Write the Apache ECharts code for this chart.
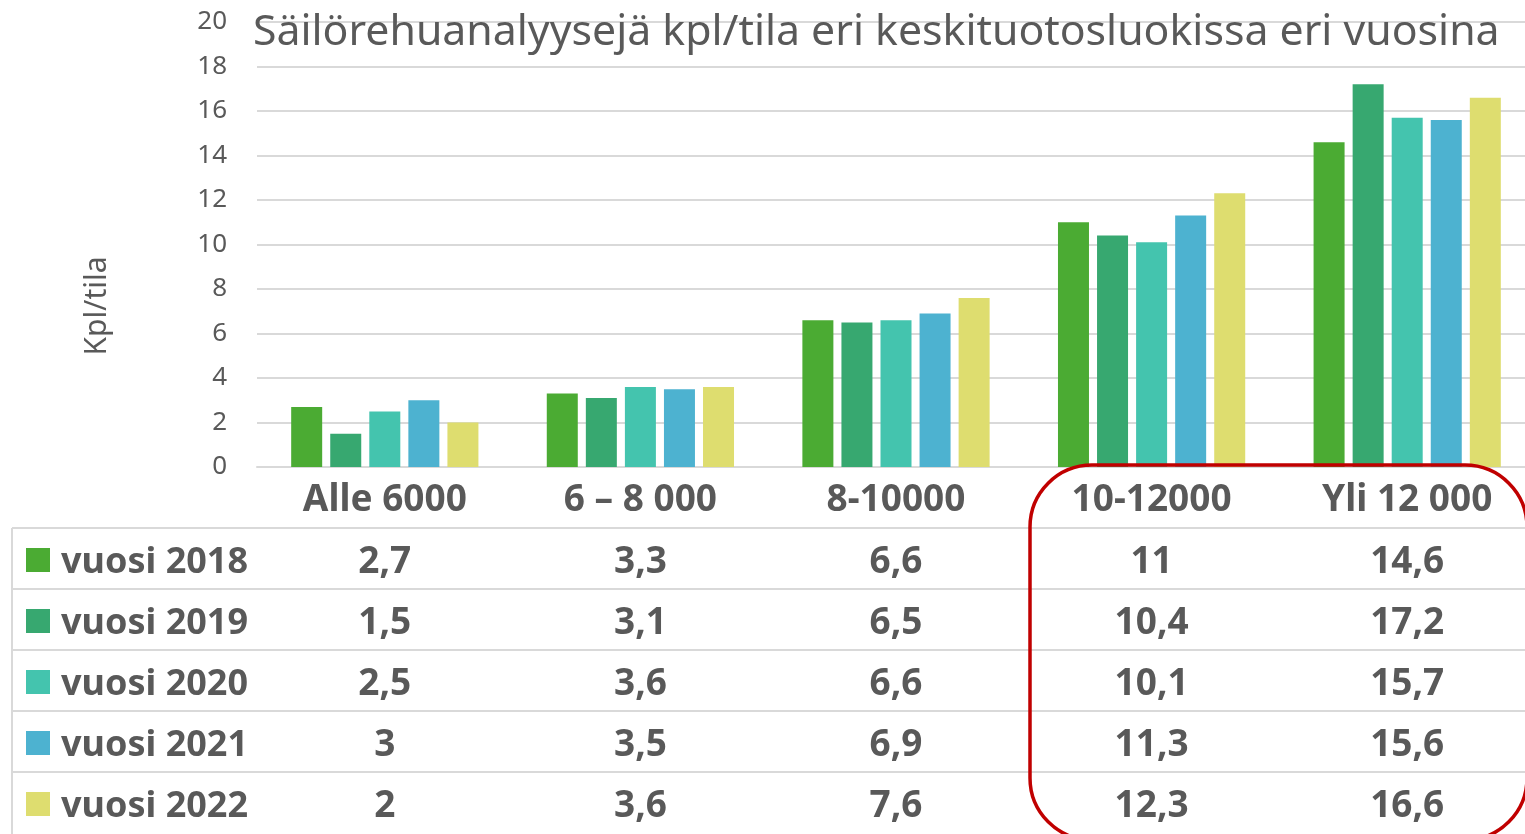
<!DOCTYPE html>
<html lang="fi">
<head>
    <meta charset="UTF-8">
    <title>Säilörehuanalyysejä</title>
    <style type="text/css">
        body, html{width: 100%;height: 100%;margin:0;background:#fff;overflow:hidden;}
        #main {width: 1545px; height: 834px;}
    </style>
    <script src="https://cdn.jsdelivr.net/npm/echarts@6/dist/echarts.min.js"></script>
</head>
<body>
<div id="main"></div>
<script type="text/javascript">
    // keskituotosluokat
    var categories = ['Alle 6000', '6 – 8 000', '8-10000', '10-12000', 'Yli 12 000'];
    var years = ['vuosi 2018', 'vuosi 2019', 'vuosi 2020', 'vuosi 2021', 'vuosi 2022'];
    var v2018 = [2.7, 3.3, 6.6, 11, 14.6];
    var v2019 = [1.5, 3.1, 6.5, 10.4, 17.2];
    var v2020 = [2.5, 3.6, 6.6, 10.1, 15.7];
    var v2021 = [3, 3.5, 6.9, 11.3, 15.6];
    var v2022 = [2, 3.6, 7.6, 12.3, 16.6];
    var yTicks = [0, 2, 4, 6, 8, 10, 12, 14, 16, 18, 20];
    var allValues = [v2018, v2019, v2020, v2021, v2022];
    var colors = ['#4bab33', '#37a870', '#44c4ae', '#4db2d0', '#dedd6f'];

    var font = '"Noto Sans", sans-serif';
    var gray = '#595959';
    var lineGray = '#d9d9d9';
    var rowH = 61;
    var axisY = 467;

    function fmt(v){
        return String(v).replace('.', ',');
    }

    var chart = echarts.init(document.getElementById('main'));

    // x-akselit: otsikkorivi + yksi rivi per vuosi (taulukko)
    var xAxes = [{
        type: 'category',
        data: categories,
        position: 'bottom',
        axisLine: {lineStyle: {color: lineGray, width: 2}},
        axisTick: {length: 367, lineStyle: {color: lineGray, width: 2}},
        axisLabel: {
            interval: 0, margin: 33, verticalAlign: 'middle',
            color: gray, fontSize: 37, fontWeight: 'bold', fontFamily: font
        }
    }];
    allValues.forEach(function(vals, i){
        xAxes.push({
            type: 'category',
            data: categories,
            position: 'bottom',
            offset: rowH * (i + 1),
            axisLine: {show: false},
            axisTick: {show: false},
            axisLabel: {
                interval: 0, margin: 34, verticalAlign: 'middle',
                color: gray, fontSize: 37, fontWeight: 'bold', fontFamily: font,
                formatter: function(value, idx){ return fmt(vals[idx]); }
            }
        });
    });

    var series = allValues.map(function(vals, i){
        return {
            name: years[i],
            type: 'bar',
            data: vals,
            barWidth: 31,
            barGap: '26%',
            itemStyle: {color: colors[i]}
        };
    });

    // taulukon vaakaviivat
    var graphics = [];
    for (var r = 1; r <= 5; r++) {
        graphics.push({
            type: 'line',
            shape: {x1: 12, y1: axisY + rowH * r, x2: 1545, y2: axisY + rowH * r},
            style: {stroke: lineGray, lineWidth: 2}
        });
    }
    graphics.push({
        type: 'line',
        shape: {x1: 12, y1: axisY + rowH, x2: 12, y2: 834},
        style: {stroke: lineGray, lineWidth: 2}
    });
    // y-akselin nimi
    graphics.push({
        type: 'text',
        x: 97, y: 306,
        rotation: Math.PI / 2,
        style: {
            text: 'Kpl/tila', fill: gray, fontSize: 30, fontFamily: font,
            align: 'center', verticalAlign: 'middle'
        }
    });
    // punainen korostus
    graphics.push({
        type: 'rect',
        shape: {x: 1030, y: 465, width: 497, height: 375, r: 62},
        style: {fill: 'none', stroke: '#c00000', lineWidth: 3.5},
        z: 100
    });

    var option = {
        animation: false,
        color: colors,
        title: {
            text: 'Säilörehuanalyysejä kpl/tila eri keskituotosluokissa eri vuosina',
            left: 248, top: 6,
            textStyle: {color: gray, fontSize: 42.8, fontWeight: 'normal', fontFamily: font}
        },
        legend: {
            data: years,
            orient: 'vertical',
            left: 26, top: 539,
            padding: 0,
            icon: 'rect',
            itemWidth: 24, itemHeight: 24,
            itemGap: 19,
            formatter: function(name){ return '{y|' + name + '}'; },
            textStyle: {
                color: gray, fontSize: 36, fontWeight: 'bold', fontFamily: font,
                rich: {
                    y: {color: gray, fontSize: 36, fontWeight: 'bold', fontFamily: font,
                        lineHeight: 34, padding: [6, 0, 0, 6]}
                }
            }
        },
        grid: {left: 257, top: 22, width: 1278, height: 445, containLabel: false},
        xAxis: xAxes,
        yAxis: {
            type: 'value',
            min: yTicks[0], max: yTicks[yTicks.length - 1], interval: 2,
            axisLine: {show: false},
            axisTick: {show: false},
            axisLabel: {color: gray, fontSize: 26, fontFamily: font, margin: 30},
            splitLine: {lineStyle: {color: lineGray, width: 2}}
        },
        series: series,
        graphic: graphics
    };
    chart.setOption(option);
</script>
</body>
</html>
